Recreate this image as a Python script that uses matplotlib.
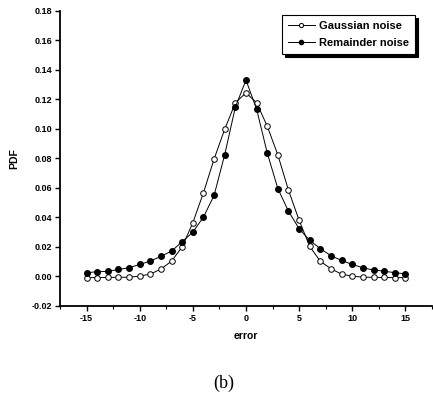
import matplotlib

matplotlib.use("Agg")
import matplotlib.pyplot as plt
from matplotlib.ticker import MultipleLocator, FormatStrFormatter
import numpy as np

# erreur de -15 a 15
error = np.arange(-15, 16)

gaussian_pdf = [
    -0.0008, -0.0008, -0.0007, -0.0006, -0.0005, 0.0002, 0.0016, 0.0050, 0.0104, 0.0201,
    0.0364, 0.0567, 0.0795, 0.0997, 0.1175, 0.1243, 0.1175, 0.1017, 0.0822, 0.0583,
    0.0380, 0.0203, 0.0102, 0.0052, 0.0015, 0.0002, -0.0005, -0.0006, -0.0007, -0.0008,
    -0.0008,
]

remainder_pdf = [
    0.0025, 0.0032, 0.0034, 0.0047, 0.0059, 0.0081, 0.0104, 0.0136, 0.0172, 0.0235,
    0.0300, 0.0402, 0.0549, 0.0825, 0.1146, 0.1329, 0.1132, 0.0836, 0.0594, 0.0441,
    0.0323, 0.0244, 0.0188, 0.0140, 0.0108, 0.0081, 0.0059, 0.0043, 0.0036, 0.0025,
    0.0018,
]

plt.rcParams["font.family"] = ["Liberation Sans", "DejaVu Sans"]

fig = plt.figure(figsize=(4.33, 3.98), dpi=100)
ax = fig.add_axes([0.1386, 0.2312, 0.859, 0.7424])

ax.plot(error, gaussian_pdf, color="black", linewidth=0.7, marker="o", markersize=4.0,
        markerfacecolor="white", markeredgecolor="black", markeredgewidth=0.7,
        label="Gaussian noise")
ax.plot(error, remainder_pdf, color="black", linewidth=0.7, marker="o", markersize=4.0,
        markerfacecolor="black", markeredgecolor="black", label="Remainder noise")

ax.set_xlim(-17.5, 17.5)
ax.set_ylim(-0.02, 0.18)
ax.xaxis.set_major_locator(MultipleLocator(5))
ax.xaxis.set_minor_locator(MultipleLocator(2.5))
ax.yaxis.set_major_locator(MultipleLocator(0.02))
ax.yaxis.set_major_formatter(FormatStrFormatter("%.2f"))
ax.xaxis.set_major_formatter(FormatStrFormatter("%d"))

for side in ("top", "right"):
    ax.spines[side].set_visible(False)
for side in ("left", "bottom"):
    ax.spines[side].set_linewidth(1.3)

ax.tick_params(axis="both", which="major", direction="out", length=3.5, width=1.0,
               labelsize=6.5, pad=2)
ax.tick_params(axis="x", which="minor", direction="out", length=2, width=0.8)
for lab in ax.get_xticklabels() + ax.get_yticklabels():
    lab.set_fontweight("bold")

ax.set_xlabel("error", fontsize=7.5, fontweight="bold", labelpad=6)
ax.set_ylabel("PDF", fontsize=7.5, fontweight="bold", labelpad=9)

leg = ax.legend(loc="upper right", bbox_to_anchor=(0.955, 0.985), fontsize=8,
                frameon=True, fancybox=False, shadow={"color": "black", "alpha": 1},
                handlelength=2.4, markerscale=0.75, borderpad=0.55, labelspacing=0.6,
                handletextpad=0.4, borderaxespad=0)
leg.get_frame().set_edgecolor("black")
leg.get_frame().set_linewidth(0.8)
leg.get_frame().set_alpha(1)
for t in leg.get_texts():
    t.set_fontweight("bold")

fig.text(0.517, 0.025, "(b)", fontsize=13, family=["Liberation Serif", "DejaVu Serif"],
         ha="center", va="baseline")

fig.savefig("out.png", dpi=100)
